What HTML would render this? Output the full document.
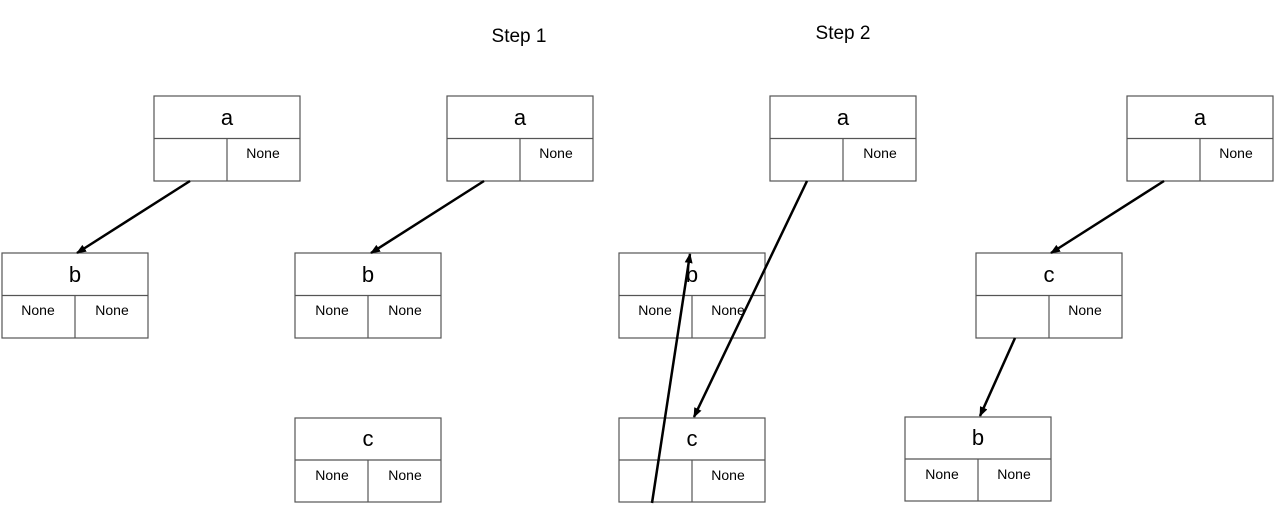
<!DOCTYPE html>
<html><head><meta charset="utf-8"><style>
html,body{margin:0;padding:0;background:#fff;}
svg{display:block;}
text{font-family:"Liberation Sans",sans-serif;fill:#000;}
</style></head><body>
<svg width="1280" height="531" viewBox="0 0 1280 531" xmlns="http://www.w3.org/2000/svg">
<defs>
<marker id="ah" markerWidth="10" markerHeight="8" refX="9" refY="4" orient="auto" markerUnits="userSpaceOnUse">
<path d="M0,0 L10,4 L0,8 z" fill="#000"/>
</marker>
</defs>
<text x="519" y="42" font-size="19" text-anchor="middle">Step 1</text>
<text x="843" y="39" font-size="19" text-anchor="middle">Step 2</text>
<g stroke="#555" stroke-width="1.2" fill="none">
<!-- nodes: x,y -->
<rect x="154" y="96" width="146" height="85"/><line x1="154" y1="138.5" x2="300" y2="138.5"/><line x1="227" y1="138.5" x2="227" y2="181"/>
<rect x="2" y="253" width="146" height="85"/><line x1="2" y1="295.5" x2="148" y2="295.5"/><line x1="75" y1="295.5" x2="75" y2="338"/>
<rect x="447" y="96" width="146" height="85"/><line x1="447" y1="138.5" x2="593" y2="138.5"/><line x1="520" y1="138.5" x2="520" y2="181"/>
<rect x="295" y="253" width="146" height="85"/><line x1="295" y1="295.5" x2="441" y2="295.5"/><line x1="368" y1="295.5" x2="368" y2="338"/>
<rect x="295" y="418" width="146" height="84"/><line x1="295" y1="460" x2="441" y2="460"/><line x1="368" y1="460" x2="368" y2="502"/>
<rect x="770" y="96" width="146" height="85"/><line x1="770" y1="138.5" x2="916" y2="138.5"/><line x1="843" y1="138.5" x2="843" y2="181"/>
<rect x="619" y="253" width="146" height="85"/><line x1="619" y1="295.5" x2="765" y2="295.5"/><line x1="692" y1="295.5" x2="692" y2="338"/>
<rect x="619" y="418" width="146" height="84"/><line x1="619" y1="460" x2="765" y2="460"/><line x1="692" y1="460" x2="692" y2="502"/>
<rect x="1127" y="96" width="146" height="85"/><line x1="1127" y1="138.5" x2="1273" y2="138.5"/><line x1="1200" y1="138.5" x2="1200" y2="181"/>
<rect x="976" y="253" width="146" height="85"/><line x1="976" y1="295.5" x2="1122" y2="295.5"/><line x1="1049" y1="295.5" x2="1049" y2="338"/>
<rect x="905" y="417" width="146" height="84"/><line x1="905" y1="459" x2="1051" y2="459"/><line x1="978" y1="459" x2="978" y2="501"/>
</g>
<g font-size="22" text-anchor="middle">
<text x="227" y="125">a</text>
<text x="75" y="282">b</text>
<text x="520" y="125">a</text>
<text x="368" y="282">b</text>
<text x="368" y="446">c</text>
<text x="843" y="125">a</text>
<text x="692" y="282">b</text>
<text x="692" y="446">c</text>
<text x="1200" y="125">a</text>
<text x="1049" y="282">c</text>
<text x="978" y="445">b</text>
</g>
<g font-size="14" text-anchor="middle">
<text x="263" y="158">None</text>
<text x="38" y="315">None</text><text x="112" y="315">None</text>
<text x="556" y="158">None</text>
<text x="332" y="315">None</text><text x="405" y="315">None</text>
<text x="332" y="480">None</text><text x="405" y="480">None</text>
<text x="880" y="158">None</text>
<text x="655" y="315">None</text><text x="728" y="315">None</text>
<text x="728" y="480">None</text>
<text x="1236" y="158">None</text>
<text x="1085" y="315">None</text>
<text x="942" y="479">None</text><text x="1014" y="479">None</text>
</g>
<g stroke="#000" stroke-width="2.5" fill="none" marker-end="url(#ah)">
<line x1="190" y1="181" x2="77" y2="253"/>
<line x1="484" y1="181" x2="371" y2="253"/>
<line x1="807" y1="181" x2="694" y2="417"/>
<line x1="652" y1="503" x2="690" y2="254"/>
<line x1="1164" y1="181" x2="1051" y2="253"/>
<line x1="1015" y1="338" x2="980" y2="416"/>
</g>
</svg>
</body></html>
